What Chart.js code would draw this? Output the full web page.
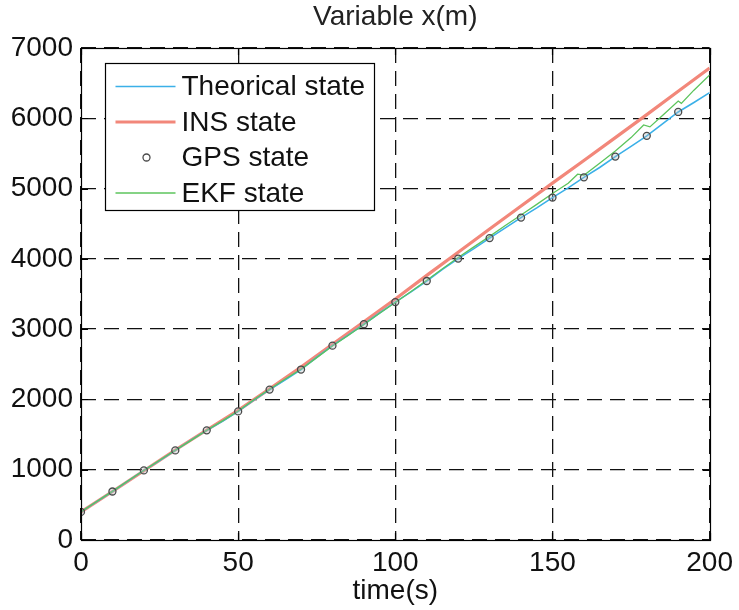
<!DOCTYPE html>
<html>
<head>
<meta charset="utf-8">
<script src="https://cdn.jsdelivr.net/npm/chart.js@4.4.1/dist/chart.umd.min.js"></script>
<style>
html,body{margin:0;padding:0;background:#fff;}
canvas{display:block;}
</style>
</head>
<body>
<canvas id="c" width="739" height="610"></canvas>
<script>
// ---- data ----
const theoTime = [0,5,10,15,20,25,30,35,40,45,50,55,60,65,70,75,80,85,90,95,100,105,110,115,120,125,130,135,140,145,150,155,160,165,170,175,180,185,190,195,200];
const theoState = [400,545,690,840,990,1130,1275,1420,1560,1690,1830,1990,2140,2280,2425,2600,2765,2915,3070,3230,3385,3530,3685,3850,4004,4145,4295,4440,4587,4725,4872,5010,5160,5300,5455,5600,5750,5920,6090,6225,6365];

const insTime = [0,10,20,30,40,50,60,70,80,90,100,110,120,130,140,150,160,170,180,190,200];
const insState = [400,690,985,1280,1565,1845,2150,2460,2785,3105,3430,3765,4095,4425,4752,5078,5400,5725,6052,6385,6715];

const gpsTime = [0,10,20,30,40,50,60,70,80,90,100,110,120,130,140,150,160,170,180,190];
const gpsState = [400,690,990,1275,1560,1830,2140,2425,2765,3070,3385,3685,4004,4295,4587,4872,5160,5455,5750,6090];

const ekfTime = [0,5,10,15,20,25,30,35,40,45,50,55,60,65,70,75,80,85,90,95,100,105,110,115,120,125,130,135,140,145,150,155,158,160,165,170,175,179,181,185,190,191,195,200];
const ekfState = [400,548,692,842,988,1135,1278,1418,1562,1695,1835,1995,2145,2290,2430,2595,2760,2910,3065,3225,3380,3535,3695,3860,4020,4170,4320,4475,4625,4775,4930,5075,5205,5190,5360,5535,5725,5905,5878,6040,6245,6212,6400,6616];

const xTicks = [0,50,100,150,200];
const yTicks = [0,1000,2000,3000,4000,5000,6000,7000];
const seriesNames = ['Theorical state','INS state','GPS state','EKF state'];
const titleText = 'Variable x(m)';
const xTitle = 'time(s)';

const FONT = '"Liberation Sans", Arial, Helvetica, sans-serif';
const FS = 28;

const pts = (t, v) => t.map((x, i) => ({x: x, y: v[i]}));

const framePlugin = {
  id: 'frame',
  afterDraw(chart) {
    const ctx = chart.ctx, a = chart.chartArea;
    const xs = chart.scales.x, ys = chart.scales.y;
    ctx.save();
    // box
    ctx.strokeStyle = '#000';
    ctx.lineWidth = 1.2;
    ctx.strokeRect(Math.round(a.left) + 0.5, Math.round(a.top) + 0.5, Math.round(a.right - a.left), Math.round(a.bottom - a.top));
    // inner ticks
    const tl = 7;
    ctx.beginPath();
    xTicks.forEach(v => {
      const p = Math.round(xs.getPixelForValue(v)) + 0.5;
      ctx.moveTo(p, a.bottom); ctx.lineTo(p, a.bottom - tl);
      ctx.moveTo(p, a.top); ctx.lineTo(p, a.top + tl);
    });
    yTicks.forEach(v => {
      const p = Math.round(ys.getPixelForValue(v)) + 0.5;
      ctx.moveTo(a.left, p); ctx.lineTo(a.left + tl, p);
      ctx.moveTo(a.right, p); ctx.lineTo(a.right - tl, p);
    });
    ctx.stroke();

    // legend
    ctx.font = FS + 'px ' + FONT;
    const ds = chart.data.datasets;
    const bx = Math.round(a.left + 24) + 0.5, by = Math.round(a.top + 15) + 0.5;
    const textX = bx + 76;
    let maxW = 0;
    seriesNames.forEach(n => { maxW = Math.max(maxW, ctx.measureText(n).width); });
    const bw = Math.round(76 + maxW + 9), bh = 147, rowH = 35.5;
    ctx.fillStyle = '#fff';
    ctx.fillRect(bx, by, bw, bh);
    ctx.strokeStyle = '#000';
    ctx.lineWidth = 1.2;
    ctx.strokeRect(bx, by, bw, bh);
    seriesNames.forEach((n, i) => {
      const d = ds.find(q => q.label === n);
      const cy = by + 23 + i * rowH;
      if (d.showLine === false) {
        ctx.beginPath();
        ctx.arc(bx + 41, cy, d.pointRadius, 0, Math.PI * 2);
        ctx.lineWidth = d.pointBorderWidth;
        ctx.strokeStyle = d.pointBorderColor;
        ctx.stroke();
      } else {
        ctx.beginPath();
        ctx.moveTo(bx + 10, cy); ctx.lineTo(bx + 70, cy);
        ctx.lineWidth = d.borderWidth;
        ctx.strokeStyle = d.borderColor;
        ctx.stroke();
      }
      ctx.fillStyle = '#111';
      ctx.textBaseline = 'middle';
      ctx.textAlign = 'left';
      ctx.fillText(n, textX, cy + 1);
    });
    ctx.restore();
  }
};

const gridOpts = {
  display: true,
  color: '#111',
  lineWidth: 1.3,
  drawTicks: false
};

new Chart(document.getElementById('c'), {
  type: 'line',
  data: {
    datasets: [
      { label: seriesNames[0], data: pts(theoTime, theoState), borderColor: '#3bb0e8', borderWidth: 1.6, pointRadius: 0, tension: 0, order: 3 },
      { label: seriesNames[1], data: pts(insTime, insState), borderColor: '#f2877a', borderWidth: 3.2, pointRadius: 0, tension: 0, order: 4 },
      { label: seriesNames[2], data: pts(gpsTime, gpsState), showLine: false, pointRadius: 3.5, pointBorderWidth: 1.3, pointBorderColor: '#4a4a4a', pointBackgroundColor: 'rgba(180,190,195,0.35)', borderColor: '#4a4a4a', order: 1 },
      { label: seriesNames[3], data: pts(ekfTime, ekfState), borderColor: '#5cc45c', borderWidth: 1.3, pointRadius: 0, tension: 0, order: 2 }
    ]
  },
  options: {
    responsive: false,
    animation: false,
    events: [],
    layout: { padding: { left: 0, right: 26, top: 0, bottom: 0 } },
    plugins: {
      legend: { display: false },
      tooltip: { enabled: false },
      title: {
        display: true,
        fullSize: false,
        text: titleText,
        color: '#222',
        font: { family: FONT, size: FS, weight: 'normal', lineHeight: 1.2 },
        padding: { top: 0.5, bottom: 13.9 }
      }
    },
    scales: {
      x: {
        type: 'linear',
        min: 0, max: 200,
        afterBuildTicks: s => { s.ticks = xTicks.map(v => ({value: v})); },
        afterFit: s => { s.height = 70; },
        grid: Object.assign({}, gridOpts),
        border: { display: false, dash: [15, 8] },
        ticks: { color: '#111', font: { family: FONT, size: FS }, padding: 6, maxRotation: 0, autoSkip: false, callback: v => String(v) },
        title: { display: true, text: xTitle, color: '#111', font: { family: FONT, size: FS }, padding: { top: 0, bottom: 2 } }
      },
      y: {
        type: 'linear',
        min: 0, max: 7000,
        afterBuildTicks: s => { s.ticks = yTicks.map(v => ({value: v})); },
        afterFit: s => { s.width = 81; },
        grid: Object.assign({}, gridOpts),
        border: { display: false, dash: [15, 8] },
        ticks: { color: '#111', font: { family: FONT, size: FS }, padding: 8, autoSkip: false, callback: v => String(v) }
      }
    }
  },
  plugins: [framePlugin]
});
</script>
</body>
</html>
